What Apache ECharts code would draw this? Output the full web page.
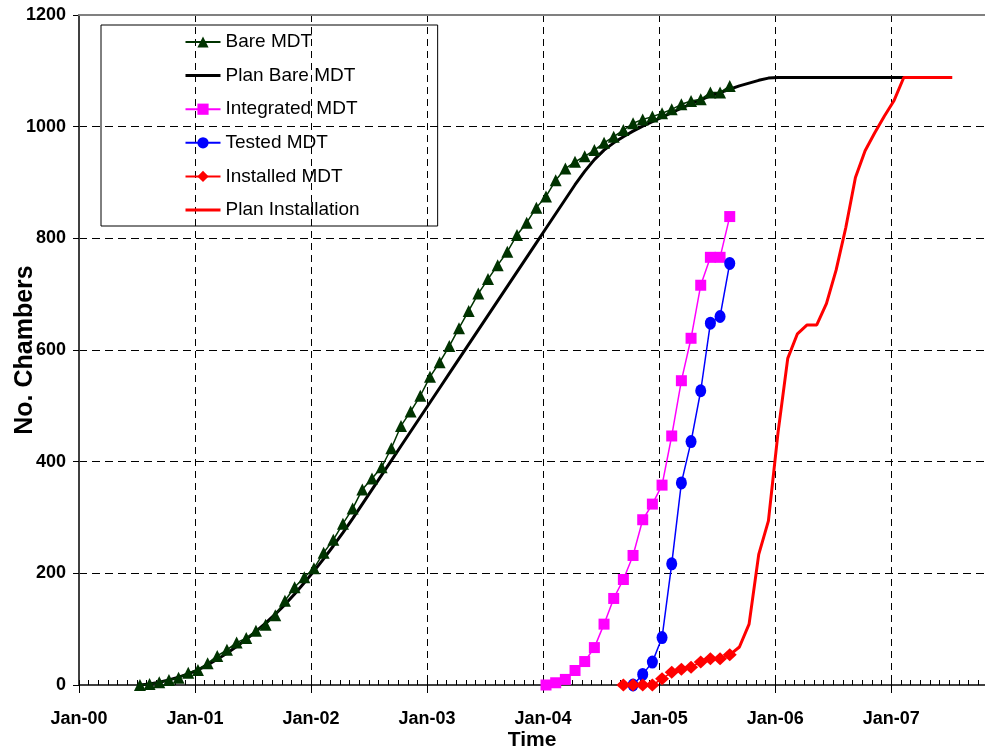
<!DOCTYPE html>
<html>
<head>
<meta charset="utf-8">
<script src="https://cdn.jsdelivr.net/npm/echarts@6/dist/echarts.min.js"></script>
<style>
html,body{margin:0;padding:0;background:#fff;}
#chart{width:985px;height:751px;}
</style>
</head>
<body>
<div id="chart"></div>
<script>
// Monthly sampling dates (data points fall around the 10th of each month)
const months = [
  '2000-07','2000-08','2000-09','2000-10','2000-11','2000-12',
  '2001-01','2001-02','2001-03','2001-04','2001-05','2001-06','2001-07','2001-08','2001-09','2001-10','2001-11','2001-12',
  '2002-01','2002-02','2002-03','2002-04','2002-05','2002-06','2002-07','2002-08','2002-09','2002-10','2002-11','2002-12',
  '2003-01','2003-02','2003-03','2003-04','2003-05','2003-06','2003-07','2003-08','2003-09','2003-10','2003-11','2003-12',
  '2004-01','2004-02','2004-03','2004-04','2004-05','2004-06','2004-07','2004-08','2004-09','2004-10','2004-11','2004-12',
  '2005-01','2005-02','2005-03','2005-04','2005-05','2005-06','2005-07','2005-08','2005-09','2005-10','2005-11','2005-12',
  '2006-01','2006-02','2006-03','2006-04','2006-05','2006-06','2006-07','2006-08','2006-09','2006-10','2006-11','2006-12',
  '2007-01','2007-02','2007-03','2007-04','2007-05','2007-06','2007-07'
];
const xTickLabels = ['Jan-00','Jan-01','Jan-02','Jan-03','Jan-04','Jan-05','Jan-06','Jan-07'];

// Bare MDT (from 2000-07)
const bareStart = '2000-07';
const bareValues = [0,2,5,9,13,22,27,39,52,63,76,84,97,108,125,151,175,193,209,237,260,289,316,350,370,390,424,464,490,518,552,578,607,639,670,701,727,752,776,806,828,855,875,904,925,937,947,958,971,982,994,1006,1013,1018,1024,1031,1040,1046,1049,1061,1061,1073];

// Plan Bare MDT (from 2000-07)
const planBareStart = '2000-07';
const planBareValues = [0,2,5,9,14,20,27,36,46,57,69,82,96,111,127,144,163,183,204,226,249,273,298,324,350,376,402,428,454,480,506,532,558,584,610,636,662,688,714,740,766,792,818,844,870,896,920,941,958,971,982,992,1001,1009,1017,1025,1033,1041,1048,1055,1061,1067,1073,1078,1083,1087,1088,1088,1088,1088,1088,1088,1088,1088,1088,1088,1088,1088,1088,1088,1088,1088,1088,1088,1088];

// Integrated MDT (from 2004-01)
const integratedStart = '2004-01';
const integratedValues = [0,4,10,26,42,67,109,155,189,232,296,324,358,446,545,621,716,766,766,839];

// Tested MDT (from 2004-10)
const testedStart = '2004-10';
const testedValues = [0,19,41,85,217,362,436,527,648,660,755];

// Installed MDT (from 2004-09)
const installedStart = '2004-09';
const installedValues = [0,0,0,0,11,23,28,32,41,47,47,54];

// Plan Installation (from 2005-08)
const planInstStart = '2005-08';
const planInstValues = [54,68,109,234,294,453,585,629,645,645,683,743,819,909,957,989,1019,1047,1088,1088,1088,1088,1088,1088];

const FONT = "'Liberation Sans', Arial, sans-serif";
function monthIndex(label) {
  const p = label.split('-').map(Number);
  return (p[0] - 2000) * 12 + (p[1] - 1) + 0.3;
}
function buildData(start, values) {
  const i0 = months.indexOf(start);
  return values.map((v, i) => [monthIndex(months[i0 + i]), v]);
}

const chart = echarts.init(document.getElementById('chart'), null, {renderer: 'canvas'});
const X_MAX = 93.7;
const option = {
  animation: false,
  backgroundColor: '#fff',
  textStyle: {fontFamily: FONT},
  grid: {left: 79, right: 0, top: 15, bottom: 66, containLabel: false, outerBoundsMode: 'none'},
  legend: {
    orient: 'vertical',
    left: 101, top: 25,
    padding: [7, 78, 6, 83],
    itemWidth: 35, itemHeight: 14, itemGap: 13.6,
    borderColor: '#000', borderWidth: 1,
    textStyle: {fontSize: 19, color: '#000', lineHeight: 20, fontFamily: FONT},
    data: [
      'Bare MDT',
      {name: 'Plan Bare MDT', itemStyle: {opacity: 0}, lineStyle: {width: 3, color: '#000'}},
      'Integrated MDT', 'Tested MDT', 'Installed MDT',
      {name: 'Plan Installation', itemStyle: {opacity: 0}, lineStyle: {width: 3, color: '#FF0000'}}
    ]
  },
  xAxis: [
    {
      type: 'value', min: 0, max: X_MAX, interval: 12, position: 'bottom',
      name: 'Time', nameLocation: 'middle', nameGap: 45, nameMoveOverlap: false,
      nameTextStyle: {fontSize: 21, fontWeight: 'bold', color: '#000', fontFamily: FONT},
      axisLine: {show: true, onZero: false, lineStyle: {color: '#404040', width: 2}},
      axisTick: {show: true, inside: false, length: 8, lineStyle: {color: '#000', width: 1}},
      axisLabel: {
        margin: 25, fontSize: 18, fontWeight: 'bold', color: '#000', fontFamily: FONT,
        formatter: function (v) { const k = Math.round(v / 12); return (Math.abs(v - k * 12) < 1e-6 && xTickLabels[k]) ? xTickLabels[k] : ''; }
      },
      splitLine: {show: true, lineStyle: {type: [7, 5], color: '#000', width: 1}}
    },
    {
      type: 'value', min: 0, max: X_MAX, interval: 1, position: 'bottom',
      axisLine: {show: false, onZero: false},
      axisTick: {show: true, inside: true, length: 5, lineStyle: {color: '#000', width: 1}},
      axisLabel: {show: false},
      splitLine: {show: false}
    },
    {
      type: 'value', min: 0, max: X_MAX, position: 'top', z: 10,
      axisLine: {show: true, onZero: false, lineStyle: {color: '#808080', width: 2}},
      axisTick: {show: false}, axisLabel: {show: false}, splitLine: {show: false}
    }
  ],
  yAxis: {
    type: 'value', min: 0, max: 1200, interval: 200,
    name: 'No. Chambers', nameLocation: 'middle', nameGap: 41, nameMoveOverlap: false,
    nameTextStyle: {fontSize: 25, fontWeight: 'bold', color: '#000', fontFamily: FONT},
    axisLine: {show: true, lineStyle: {color: '#404040', width: 2}},
    axisTick: {show: true, inside: false, length: 6, lineStyle: {color: '#000', width: 1}},
    axisLabel: {margin: 13, fontSize: 18, fontWeight: 'bold', color: '#000', fontFamily: FONT,
      formatter: function (v) { return String(v); }},
    splitLine: {show: true, lineStyle: {type: [8, 5], color: '#000', width: 1}}
  },
  series: [
    {
      name: 'Bare MDT', type: 'line', xAxisIndex: 0, z: 4,
      data: buildData(bareStart, bareValues),
      symbol: 'triangle', symbolSize: 12,
      itemStyle: {color: '#003300'},
      lineStyle: {color: '#003300', width: 1.5}
    },
    {
      name: 'Plan Bare MDT', type: 'line', xAxisIndex: 0, z: 2,
      data: buildData(planBareStart, planBareValues),
      symbol: 'none', showSymbol: false,
      itemStyle: {color: '#000'},
      lineStyle: {color: '#000', width: 3}
    },
    {
      name: 'Integrated MDT', type: 'line', xAxisIndex: 0, z: 4,
      data: buildData(integratedStart, integratedValues),
      symbol: 'rect', symbolSize: 11,
      itemStyle: {color: '#FF00FF'},
      lineStyle: {color: '#FF00FF', width: 1.5}
    },
    {
      name: 'Tested MDT', type: 'line', xAxisIndex: 0, z: 4,
      data: buildData(testedStart, testedValues),
      symbol: 'circle', symbolSize: [11, 13],
      itemStyle: {color: '#0000FF'},
      lineStyle: {color: '#0000FF', width: 1.5}
    },
    {
      name: 'Installed MDT', type: 'line', xAxisIndex: 0, z: 4,
      data: buildData(installedStart, installedValues),
      symbol: 'diamond', symbolSize: [14, 13],
      itemStyle: {color: '#FF0000'},
      lineStyle: {color: '#FF0000', width: 1.5}
    },
    {
      name: 'Plan Installation', type: 'line', xAxisIndex: 0, z: 3,
      data: buildData(planInstStart, planInstValues),
      symbol: 'none', showSymbol: false,
      itemStyle: {color: '#FF0000'},
      lineStyle: {color: '#FF0000', width: 3}
    }
  ]
};
chart.setOption(option);
</script>
</body>
</html>
